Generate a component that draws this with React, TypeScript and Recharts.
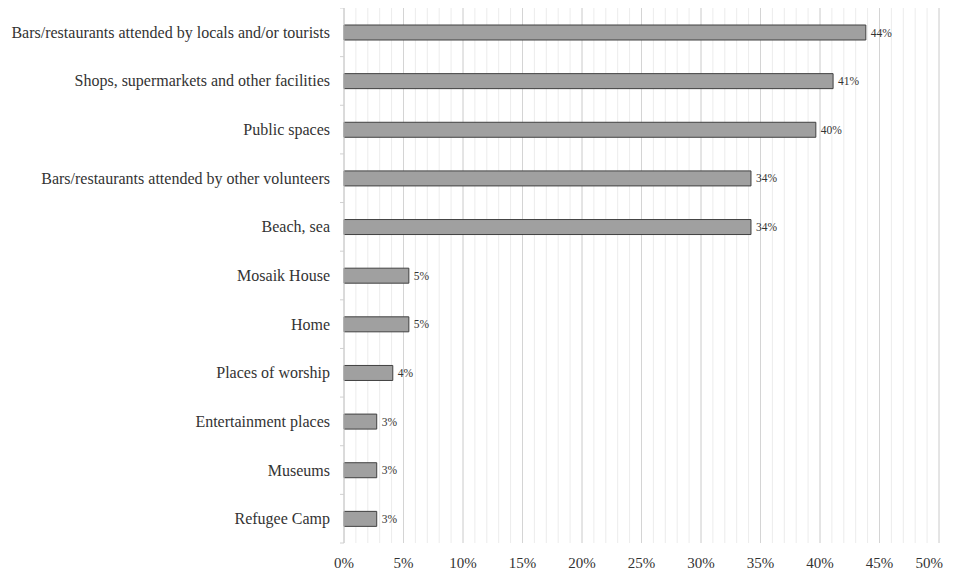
import React from "react";
import { BarChart, Bar, XAxis, YAxis, CartesianGrid, LabelList } from "recharts";

const categories = [
  "Bars/restaurants attended by locals and/or tourists",
  "Shops, supermarkets and other facilities",
  "Public spaces",
  "Bars/restaurants attended by other volunteers",
  "Beach, sea",
  "Mosaik House",
  "Home",
  "Places of worship",
  "Entertainment places",
  "Museums",
  "Refugee Camp",
];
const values = [43.85, 41.1, 39.65, 34.2, 34.2, 5.45, 5.45, 4.1, 2.75, 2.75, 2.75];
const xTicks = [0, 5, 10, 15, 20, 25, 30, 35, 40, 45, 50];
const minorGrid = Array.from({ length: 51 }, (_, i) => i);

const data = categories.map((name, i) => ({ name, value: values[i] }));

const W = 945;
const H = 565;
const YW = 336;
const XH = 30;
const RIGHT = 14;
const FONT = "'Liberation Serif', 'Times New Roman', serif";
const band = (H - XH) / categories.length;

const YTick = (props: any) => {
  const { y, payload, index } = props;
  return (
    <g>
      <text
        x={YW - 14}
        y={y}
        textAnchor="end"
        dominantBaseline="central"
        fontFamily={FONT}
        fontSize={16}
        fill="#333333"
      >
        {payload.value}
      </text>
      <line x1={YW - 4} x2={YW} y1={y - band / 2} y2={y - band / 2} stroke="#d0d0d0" />
      {index === categories.length - 1 && (
        <line x1={YW - 4} x2={YW} y1={y + band / 2} y2={y + band / 2} stroke="#d0d0d0" />
      )}
    </g>
  );
};

const XTick = (props: any) => {
  const { x, y, payload, index } = props;
  const last = index === xTicks.length - 1;
  return (
    <text
      x={last ? W - 10 : x}
      y={y}
      dy="0.71em"
      textAnchor={last ? "end" : "middle"}
      fontFamily={FONT}
      fontSize={15}
      fill="#333333"
    >
      {`${payload.value}%`}
    </text>
  );
};

export default function App() {
  return (
    <div style={{ width: W, height: H }}>
      <style>{"html, body { overflow: hidden; }"}</style>
      <BarChart
        width={W}
        height={H}
        data={data}
        layout="vertical"
        margin={{ top: 0, right: RIGHT, bottom: 0, left: 0 }}
      >
        <CartesianGrid horizontal={false} verticalValues={minorGrid} stroke="#ececec" />
        <CartesianGrid horizontal={false} verticalValues={xTicks} stroke="#d4d4d4" />
        <XAxis
          type="number"
          domain={[0, 50]}
          ticks={xTicks}
          interval={0}
          height={XH}
          axisLine={false}
          tickLine={false}
          tickMargin={8}
          tick={<XTick />}
        />
        <YAxis
          type="category"
          dataKey="name"
          width={YW}
          interval={0}
          axisLine={{ stroke: "#d0d0d0" }}
          tickLine={false}
          tick={<YTick />}
        />
        <Bar dataKey="value" fill="#a0a0a0" stroke="#404040" strokeWidth={1} barSize={15} isAnimationActive={false}>
          <LabelList
            dataKey="value"
            position="right"
            offset={5}
            formatter={(v: number) => `${Math.round(v)}%`}
            style={{ fontFamily: FONT, fontSize: 11.5, fill: "#333333" }}
          />
        </Bar>
      </BarChart>
    </div>
  );
}
